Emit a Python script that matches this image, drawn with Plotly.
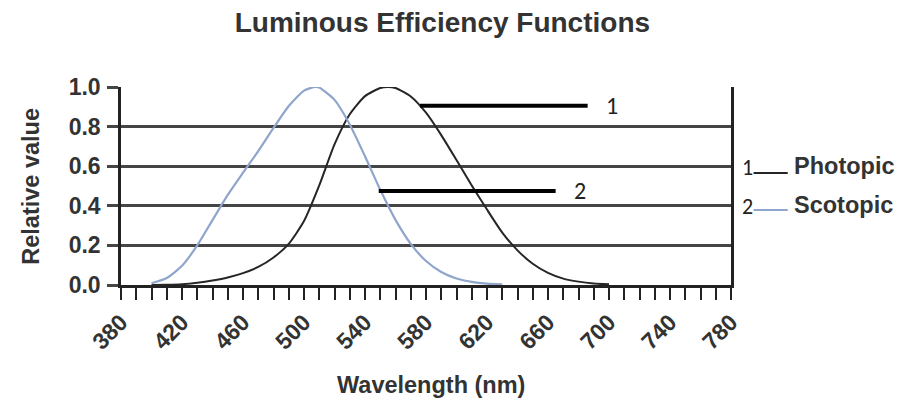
import plotly.graph_objects as go

# ---- data ----
photopic_nm = [400, 410, 420, 430, 440, 450, 460, 470, 480, 490, 500, 510, 520, 530, 540, 550, 555,
               560, 570, 580, 590, 600, 610, 620, 630, 640, 650, 660, 670, 680, 690, 700]
photopic_val = [0.0004, 0.0012, 0.004, 0.0116, 0.023, 0.038, 0.06, 0.091, 0.139, 0.208, 0.323, 0.503,
                0.71, 0.862, 0.954, 0.995, 1.0, 0.995, 0.952, 0.87, 0.757, 0.631, 0.503, 0.381, 0.265,
                0.175, 0.107, 0.061, 0.032, 0.017, 0.008, 0.004]

scotopic_nm = [400, 410, 420, 430, 440, 450, 460, 470, 480, 490, 500, 507, 510, 520, 530, 540, 550,
               560, 570, 580, 590, 600, 610, 620, 630]
scotopic_val = [0.009, 0.035, 0.097, 0.2, 0.328, 0.455, 0.567, 0.676, 0.793, 0.904, 0.982, 1.0, 0.997,
                0.935, 0.811, 0.65, 0.481, 0.329, 0.208, 0.121, 0.066, 0.033, 0.016, 0.007, 0.003]

x_tick_vals = [380, 420, 460, 500, 540, 580, 620, 660, 700, 740, 780]
y_tick_vals = [0.0, 0.2, 0.4, 0.6, 0.8, 1.0]
y_tick_text = ["0.0", "0.2", "0.4", "0.6", "0.8", "1.0"]

series_names = ["Photopic", "Scotopic"]
series_colors = ["#262626", "#8fa5cc"]

# label leader lines (data coords): x0, x1, y, label x, label
leaders = [(576, 686, 0.905, 697, "1"), (549, 665, 0.475, 676, "2")]

TEXT = "#333333"
GRID = "#454545"
BOLD = "Liberation Sans, Arial, sans-serif"

fig = go.Figure()
fig.add_trace(go.Scatter(x=photopic_nm, y=photopic_val, mode="lines",
                         line=dict(color=series_colors[0], width=2, shape="spline", smoothing=0.6),
                         name=series_names[0], showlegend=False))
fig.add_trace(go.Scatter(x=scotopic_nm, y=scotopic_val, mode="lines",
                         line=dict(color=series_colors[1], width=2.2, shape="spline", smoothing=0.6),
                         name=series_names[1], showlegend=False))

for x0, x1, yv, lx, lab in leaders:
    fig.add_shape(type="line", xref="x", yref="y", x0=x0, x1=x1, y0=yv, y1=yv,
                  line=dict(color="black", width=4))
    fig.add_annotation(x=lx, y=yv, xref="x", yref="y", text=lab, showarrow=False,
                       xanchor="left", yanchor="middle",
                       font=dict(family="Carlito, Liberation Sans, Arial", size=24, color="#222"))

# custom legend
leg = [("1", 0.591, 0.566, "Photopic", 0.602), ("2", 0.394, 0.379, "Scotopic", 0.404)]
for i, (num, ny, ly, name, ty) in enumerate(leg):
    fig.add_annotation(x=1.014, y=ny, xref="paper", yref="paper", text=num, showarrow=False,
                       xanchor="left", yanchor="middle",
                       font=dict(family="Carlito, Liberation Sans, Arial", size=22, color="#222"))
    fig.add_shape(type="line", xref="paper", yref="paper", x0=1.037, x1=1.093, y0=ly, y1=ly,
                  line=dict(color=series_colors[i], width=2))
    fig.add_annotation(x=1.1, y=ty, xref="paper", yref="paper", text="<b>" + name + "</b>",
                       showarrow=False, xanchor="left", yanchor="middle",
                       font=dict(family=BOLD, size=23.5, color=TEXT))

# axis titles
fig.add_annotation(x=-0.148, y=0.5, xref="paper", yref="paper", text="<b>Relative value</b>",
                   textangle=-90, showarrow=False, xanchor="center", yanchor="middle",
                   font=dict(family=BOLD, size=23.5, color=TEXT))
fig.add_annotation(x=0.508, y=-0.505, xref="paper", yref="paper", text="<b>Wavelength (nm)</b>",
                   showarrow=False, xanchor="center", yanchor="middle",
                   font=dict(family=BOLD, size=23.5, color=TEXT))

fig.update_layout(
    width=905, height=398,
    margin=dict(l=113, r=182, t=79, b=121),
    paper_bgcolor="white", plot_bgcolor="white",
    title=dict(text="<b>Luminous Efficiency Functions</b>", x=0.48, xanchor="center",
               y=0.965, yanchor="middle", yref="container",
               font=dict(family=BOLD, size=28, color=TEXT)),
    xaxis=dict(range=[380, 780], tickvals=x_tick_vals, ticktext=["<b>%d</b>" % v for v in x_tick_vals],
               tickangle=-45, ticks="outside", ticklen=12, tickwidth=2, tickcolor="#222",
               minor=dict(dtick=10, tick0=380, ticks="outside", ticklen=12, tickwidth=2,
                          tickcolor="#222", showgrid=False),
               showgrid=False, zeroline=False, showline=True, linecolor="#222", linewidth=2.5,
               tickfont=dict(family=BOLD, size=23, color=TEXT), automargin=False, fixedrange=True),
    yaxis=dict(range=[0, 1], tickvals=y_tick_vals, ticktext=["<b>%s</b>" % t for t in y_tick_text],
               ticks="outside", ticklen=11, tickwidth=2.5, tickcolor=GRID,
               showgrid=True, gridcolor=GRID, gridwidth=2.5, zeroline=False,
               showline=True, mirror=True, linecolor="#222", linewidth=2.5,
               tickfont=dict(family=BOLD, size=23, color=TEXT), ticklabelstandoff=2,
               automargin=False, fixedrange=True),
)

fig.write_html("out.html")
